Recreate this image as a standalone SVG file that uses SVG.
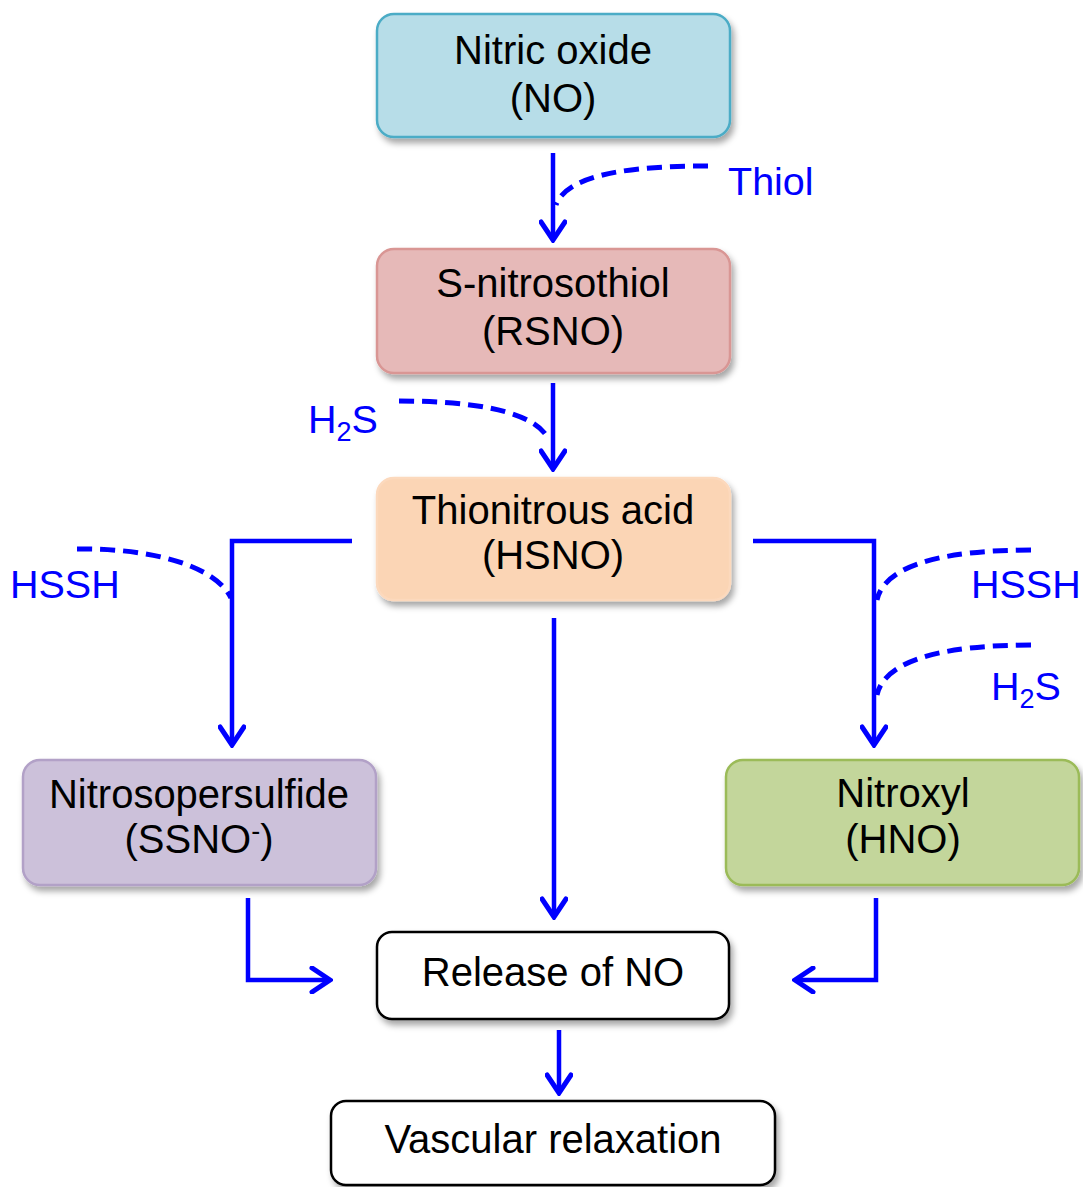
<svg xmlns="http://www.w3.org/2000/svg" width="1083" height="1187" viewBox="0 0 1083 1187">
<style>
.box{stroke-width:2.5}
.t{font-family:"Liberation Sans",Arial,sans-serif;font-size:40px;fill:#000;text-anchor:middle}
.b{font-family:"Liberation Sans",Arial,sans-serif;font-size:39.5px;fill:#0000ff}
.sub{font-size:27px}
.ln{fill:none;stroke:#0000ff;stroke-width:4.5}
.ds{fill:none;stroke:#0000ff;stroke-width:5;stroke-dasharray:15 8}
</style>
<defs>
<filter id="sh" x="-10%" y="-10%" width="125%" height="135%">
<feDropShadow dx="3" dy="5" stdDeviation="3" flood-color="#000" flood-opacity="0.35"/>
</filter>
<marker id="ah" viewBox="0 0 24 28" refX="21" refY="14" markerWidth="24" markerHeight="28" markerUnits="userSpaceOnUse" orient="auto">
<path d="M3,2 L21,14 L3,26" fill="none" stroke="#0000ff" stroke-width="5" stroke-linecap="round" stroke-linejoin="miter"/>
</marker>
</defs>
<rect width="1083" height="1187" fill="#fff"/>

<g id="connectors">
<path class="ln" d="M553,153 V240" marker-end="url(#ah)"/>
<path class="ds" d="M708,166 C640,166 568,172 556,205"/>
<path class="ln" d="M553,383 V469" marker-end="url(#ah)"/>
<path class="ds" d="M399,401 C470,401 535,410 549,440"/>
<path class="ln" d="M352,541 H232 V745" marker-end="url(#ah)"/>
<path class="ds" d="M77,549 C150,548 215,565 231,598"/>
<path class="ln" d="M753,541 H874 V745" marker-end="url(#ah)"/>
<path class="ds" d="M1031,550 C950,550 885,563 877,600"/>
<path class="ds" d="M1031,645 C950,645 885,658 877,695"/>
<path class="ln" d="M554,618 V917" marker-end="url(#ah)"/>
<path class="ln" d="M248,898 V980 H330" marker-end="url(#ah)"/>
<path class="ln" d="M876,898 V980 H795" marker-end="url(#ah)"/>
<path class="ln" d="M559,1030 V1093" marker-end="url(#ah)"/>
</g>

<g id="labels">
<text class="b" x="728" y="195">Thiol</text>
<text class="b" x="308" y="433">H<tspan class="sub" dy="8">2</tspan><tspan dy="-8">S</tspan></text>
<text class="b" x="10" y="598">HSSH</text>
<text class="b" x="971" y="598">HSSH</text>
<text class="b" x="991" y="700">H<tspan class="sub" dy="8">2</tspan><tspan dy="-8">S</tspan></text>
</g>

<g id="no">
<rect class="box" x="377" y="14" width="353" height="123" rx="17" fill="#b7dde8" stroke="#4bacc6" filter="url(#sh)"/>
<text class="t" x="553" y="64">Nitric oxide</text>
<text class="t" x="553" y="112">(NO)</text>
</g>

<g id="rsno">
<rect class="box" x="377" y="249" width="353" height="124" rx="17" fill="#e6b9b8" stroke="#d99694" filter="url(#sh)"/>
<text class="t" x="553" y="297">S-nitrosothiol</text>
<text class="t" x="553" y="345">(RSNO)</text>
</g>

<g id="hsno">
<rect class="box" x="377" y="478" width="353" height="122" rx="17" fill="#fbd5b5" stroke="#fcd9bd" filter="url(#sh)"/>
<text class="t" x="553" y="524">Thionitrous acid</text>
<text class="t" x="553" y="569">(HSNO)</text>
</g>

<g id="ssno">
<rect class="box" x="23" y="760" width="353" height="125" rx="17" fill="#ccc1da" stroke="#b2a1c7" filter="url(#sh)"/>
<text class="t" x="199" y="808">Nitrosopersulfide</text>
<text class="t" x="199" y="853">(SSNO<tspan class="sub" dy="-13">-</tspan><tspan dy="13">)</tspan></text>
</g>

<g id="hno">
<rect class="box" x="726" y="760" width="353" height="125" rx="17" fill="#c3d69b" stroke="#9bbb59" filter="url(#sh)"/>
<text class="t" x="903" y="807">Nitroxyl</text>
<text class="t" x="903" y="853">(HNO)</text>
</g>

<g id="release">
<rect class="box" x="377" y="932" width="352" height="87" rx="15" fill="#fff" stroke="#000" filter="url(#sh)"/>
<text class="t" x="553" y="986">Release of NO</text>
</g>

<g id="vascular">
<rect class="box" x="331" y="1101" width="444" height="84" rx="15" fill="#fff" stroke="#000" filter="url(#sh)"/>
<text class="t" x="553" y="1153">Vascular relaxation</text>
</g>
</svg>
